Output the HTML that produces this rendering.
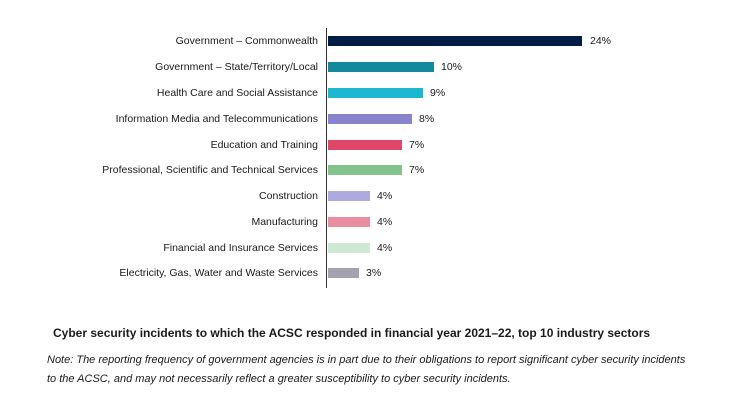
<!DOCTYPE html>
<html><head><style>
body{margin:0;width:743px;height:401px;background:#fff;font-family:"Liberation Sans",sans-serif;color:#1a1a1a;position:relative;overflow:hidden}
.l{position:absolute;right:425px;font-size:10.5px;white-space:nowrap;line-height:12px}
.b{position:absolute;left:328px;height:10px}
.v{position:absolute;font-size:10.5px;line-height:12px}
</style></head><body>
<div style="position:absolute;left:326px;top:28px;width:1px;height:260px;background:#333"></div>
<div class="l" style="top:35px">Government – Commonwealth</div><div class="b" style="top:36px;width:254px;background:#001e45"></div><div class="v" style="top:35px;left:590px">24%</div>
<div class="l" style="top:61px">Government – State/Territory/Local</div><div class="b" style="top:62px;width:106px;background:#14899b"></div><div class="v" style="top:61px;left:441px">10%</div>
<div class="l" style="top:87px">Health Care and Social Assistance</div><div class="b" style="top:88px;width:95px;background:#1db8d0"></div><div class="v" style="top:87px;left:430px">9%</div>
<div class="l" style="top:113px">Information Media and Telecommunications</div><div class="b" style="top:114px;width:84px;background:#8883cc"></div><div class="v" style="top:113px;left:419px">8%</div>
<div class="l" style="top:139px">Education and Training</div><div class="b" style="top:140px;width:74px;background:#de4767"></div><div class="v" style="top:139px;left:409px">7%</div>
<div class="l" style="top:164px">Professional, Scientific and Technical Services</div><div class="b" style="top:165px;width:74px;background:#82c48c"></div><div class="v" style="top:164px;left:409px">7%</div>
<div class="l" style="top:190px">Construction</div><div class="b" style="top:191px;width:42px;background:#aeaadf"></div><div class="v" style="top:190px;left:377px">4%</div>
<div class="l" style="top:216px">Manufacturing</div><div class="b" style="top:217px;width:42px;background:#e98ea0"></div><div class="v" style="top:216px;left:377px">4%</div>
<div class="l" style="top:242px">Financial and Insurance Services</div><div class="b" style="top:243px;width:42px;background:#cde9d2"></div><div class="v" style="top:242px;left:377px">4%</div>
<div class="l" style="top:267px">Electricity, Gas, Water and Waste Services</div><div class="b" style="top:268px;width:31px;background:#a4a2ae"></div><div class="v" style="top:267px;left:366px">3%</div>
<div style="position:absolute;left:53px;top:326px;font-size:12px;font-weight:bold;white-space:nowrap">Cyber security incidents to which the ACSC responded in financial year 2021–22, top 10 industry sectors</div>
<div style="position:absolute;left:47px;top:351px;width:680px;font-size:11px;font-style:italic;line-height:19px;white-space:nowrap">Note: The reporting frequency of government agencies is in part due to their obligations to report significant cyber security incidents<br>to the ACSC, and may not necessarily reflect a greater susceptibility to cyber security incidents.</div>
</body></html>
